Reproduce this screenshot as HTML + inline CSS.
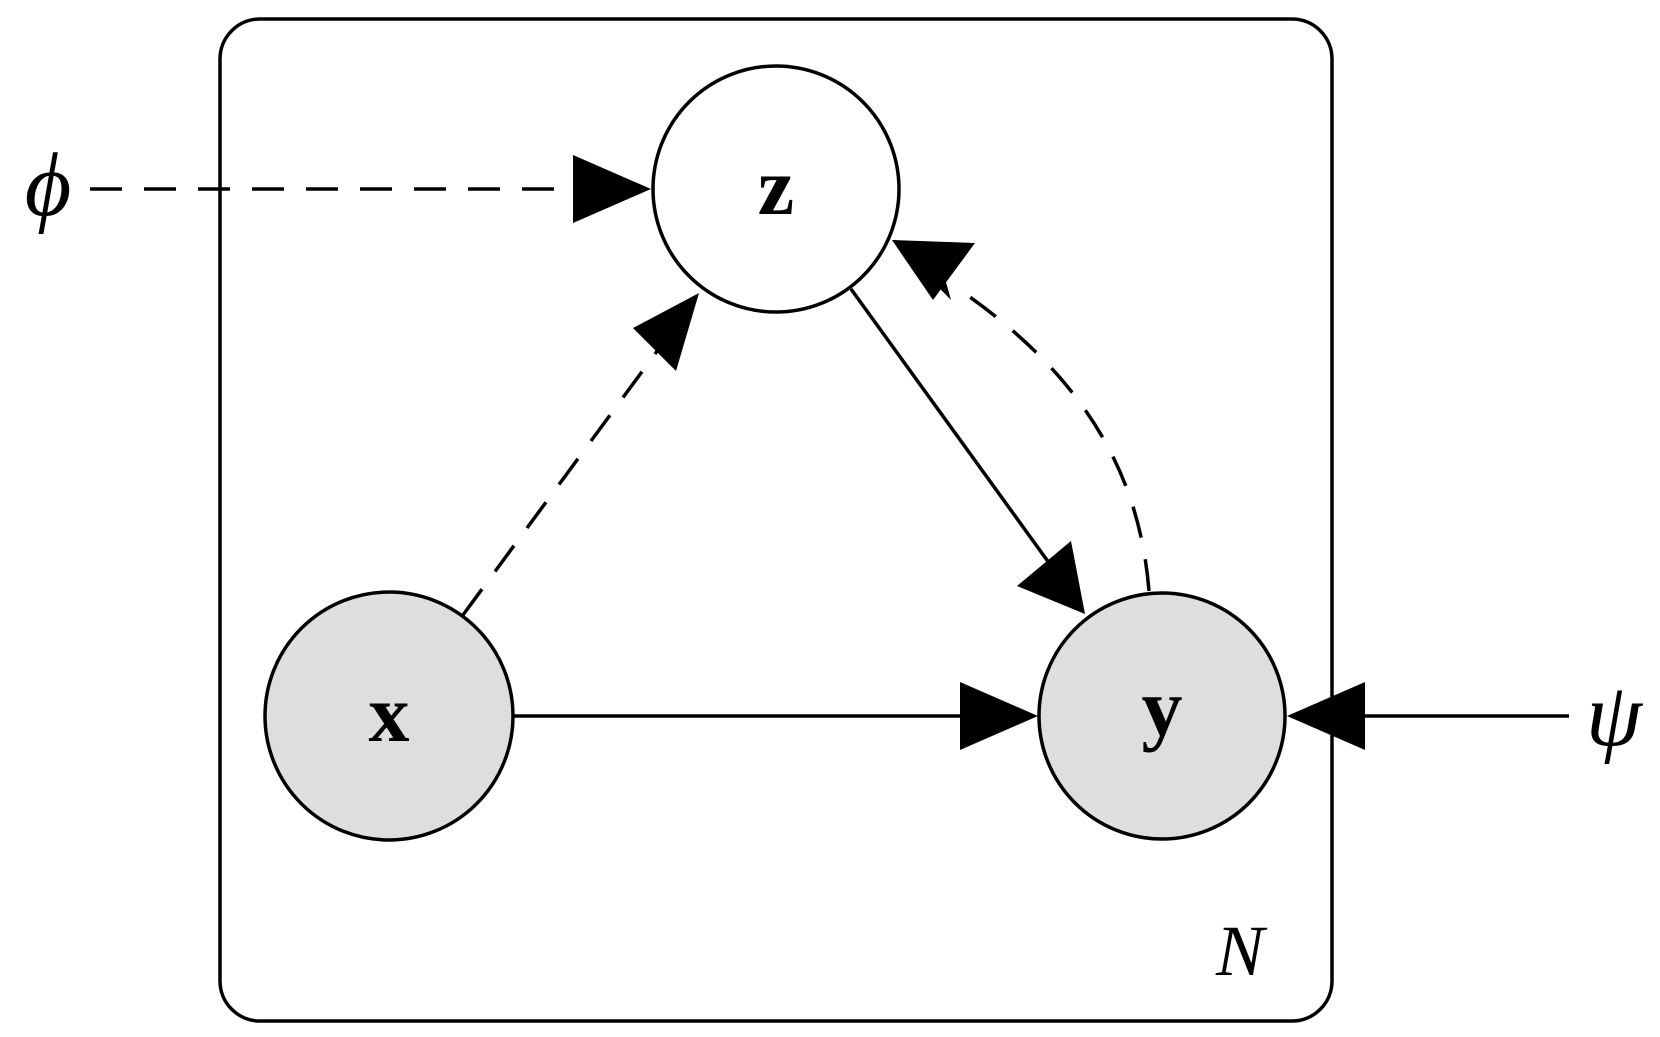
<!DOCTYPE html>
<html><head><style>body{margin:0;background:#fff}svg{display:block}</style></head><body>
<svg width="1660" height="1037" viewBox="0 0 1660 1037" xmlns="http://www.w3.org/2000/svg">
<defs>
<marker id="a" markerWidth="26" markerHeight="22" refX="25" refY="11" orient="auto" markerUnits="userSpaceOnUse" viewBox="0 0 26 22">
<path d="M0,0 L26,11 L0,22 Z" fill="#000"/>
</marker>
</defs>
<g stroke="#000" stroke-width="3.5" fill="none">
<rect x="220" y="19" width="1112" height="1002" rx="40" ry="40"/>
<circle cx="776" cy="189" r="123" fill="#fff"/>
<circle cx="389" cy="716" r="124" fill="#dedede"/>
<circle cx="1162" cy="716" r="123" fill="#dedede"/>
<g stroke-dasharray="32,22">
<line x1="90" y1="189" x2="580" y2="189"/>
<line x1="463" y1="615" x2="680" y2="320"/>
<path d="M1149,591 C1140,480 1090,380 960,290"/>
</g>
<line x1="851" y1="289" x2="1065" y2="585"/>
<line x1="514" y1="716" x2="1000" y2="716"/>
<line x1="1569" y1="716" x2="1320" y2="716"/>
</g>
<g fill="#000">
<polygon points="651,189 573,155 573,223"/>
<polygon points="699,293 633,328 676,371"/>
<polygon points="892,240 935,243 951,300"/>
<polygon points="892,240 951,300 965,242" fill="none"/>
<polygon points="1085,614 1017,586 1071,541"/>
<polygon points="1038,716 960,682 960,750"/>
<polygon points="1287,716 1365,682 1365,750"/>
</g>
<polygon points="892,240 975,243 933,300" fill="#000"/>
<g font-family="Liberation Serif, serif" fill="#000">
<text x="776" y="214" font-size="82" font-weight="bold" text-anchor="middle">z</text>
<text x="389" y="741" font-size="82" font-weight="bold" text-anchor="middle">x</text>
<text x="1162" y="735" font-size="82" font-weight="bold" text-anchor="middle">y</text>
<text x="48" y="215" font-size="90" font-style="italic" text-anchor="middle">ϕ</text>
<text x="1614" y="745" font-size="90" font-style="italic" text-anchor="middle">ψ</text>
<text x="1240" y="975" font-size="72" font-style="italic" text-anchor="middle">N</text>
</g>
</svg>
</body></html>
